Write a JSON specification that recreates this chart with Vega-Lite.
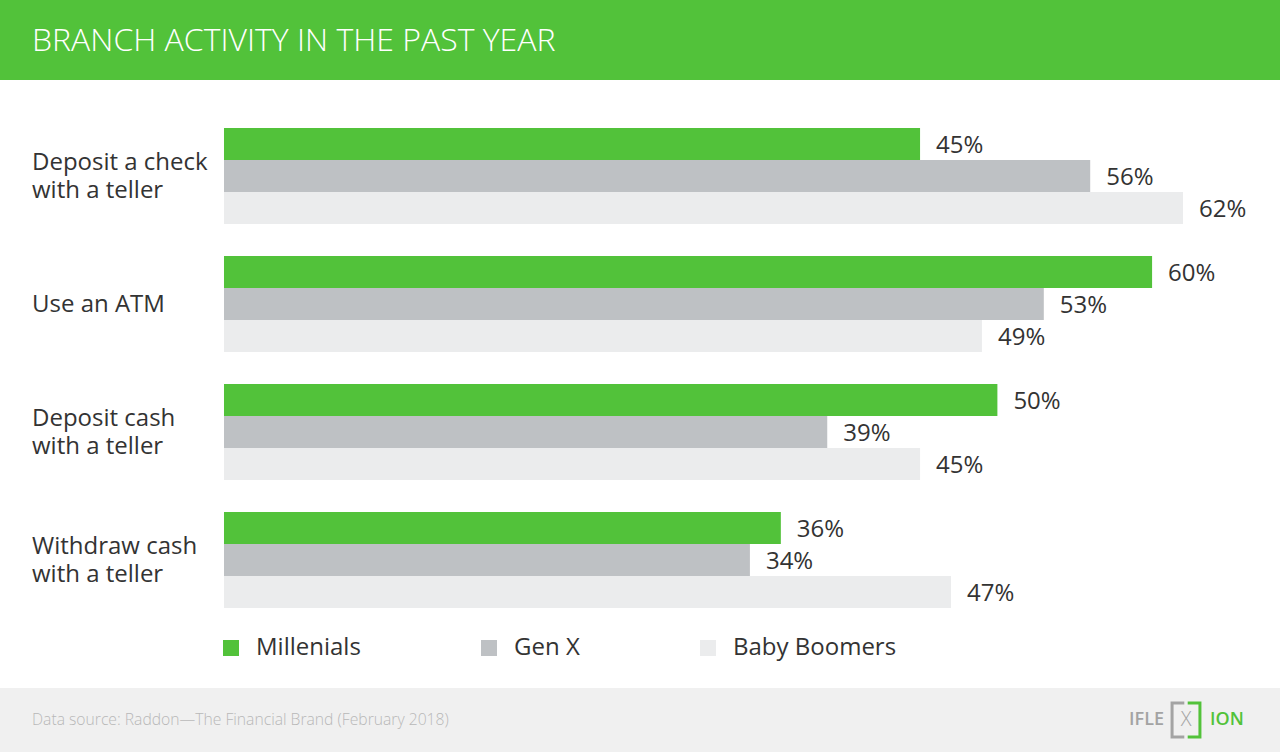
{
  "$schema": "https://vega.github.io/schema/vega-lite/v6.json",
  "background": "#ffffff",
  "padding": 0,
  "spacing": 0,
  "bounds": "flush",
  "config": {
    "view": {"stroke": null},
    "font": "Open Sans",
    "concat": {"spacing": 0}
  },
  "resolve": {"scale": {"x": "independent", "y": "independent", "color": "independent"}},
  "vconcat": [
    {
      "width": 1280,
      "height": 80,
      "view": {"fill": "#52c23a", "stroke": null},
      "data": {"values": [{"title": "BRANCH ACTIVITY IN THE PAST YEAR"}]},
      "mark": {"type": "text", "align": "left", "baseline": "middle", "dx": 32, "dy": 1, "font": "Open Sans", "fontSize": 32, "fontWeight": 300, "color": "#ffffff"},
      "encoding": {
        "text": {"field": "title"},
        "x": {"datum": 0, "type": "quantitative", "scale": {"domain": [0, 1]}, "axis": null},
        "y": {"datum": 0.5, "type": "quantitative", "scale": {"domain": [0, 1]}, "axis": null}
      }
    },
    {
      "width": 1280,
      "height": 608,
      "view": {"fill": "#ffffff", "stroke": null},
      "encoding": {
        "y": {"field": "category", "type": "nominal", "sort": null, "axis": null,
              "scale": {"domain": ["Deposit a check with a teller", "Use an ATM", "Deposit cash with a teller", "Withdraw cash with a teller"],
                        "paddingInner": 0.25, "paddingOuter": 0.5, "align": 0.375}}
      },
      "layer": [
        {
          "data": {"values": [
            {"category": "Deposit a check with a teller", "series": "Millenials", "value": 0.45},
            {"category": "Deposit a check with a teller", "series": "Gen X", "value": 0.56},
            {"category": "Deposit a check with a teller", "series": "Baby Boomers", "value": 0.62},
            {"category": "Use an ATM", "series": "Millenials", "value": 0.60},
            {"category": "Use an ATM", "series": "Gen X", "value": 0.53},
            {"category": "Use an ATM", "series": "Baby Boomers", "value": 0.49},
            {"category": "Deposit cash with a teller", "series": "Millenials", "value": 0.50},
            {"category": "Deposit cash with a teller", "series": "Gen X", "value": 0.39},
            {"category": "Deposit cash with a teller", "series": "Baby Boomers", "value": 0.45},
            {"category": "Withdraw cash with a teller", "series": "Millenials", "value": 0.36},
            {"category": "Withdraw cash with a teller", "series": "Gen X", "value": 0.34},
            {"category": "Withdraw cash with a teller", "series": "Baby Boomers", "value": 0.47}
          ]},
          "encoding": {
            "yOffset": {"field": "series", "type": "nominal", "sort": ["Millenials", "Gen X", "Baby Boomers"],
                        "scale": {"paddingInner": 0, "paddingOuter": 0}},
            "x": {"field": "value", "type": "quantitative", "axis": null,
                  "scale": {"domain": [-0.14481, 0.6827], "nice": false, "zero": false}}
          },
          "layer": [
            {
              "mark": {"type": "bar"},
              "encoding": {
                "color": {
                  "field": "series", "type": "nominal",
                  "scale": {"domain": ["Millenials", "Gen X", "Baby Boomers"], "range": ["#52c23a", "#bec1c4", "#ebeced"]},
                  "legend": {
                    "orient": "none", "legendX": 219, "legendY": 556, "direction": "horizontal", "title": null,
                    "symbolType": "square", "symbolSize": 256, "symbolStrokeWidth": 0,
                    "labelFontSize": 24, "labelFont": "Open Sans", "labelColor": "#333333", "labelOffset": 13,
                    "labelLimit": 400, "columnPadding": 116
                  }
                }
              }
            },
            {
              "mark": {"type": "text", "align": "left", "baseline": "middle", "dx": 16, "dy": 2, "fontSize": 24, "font": "Open Sans", "color": "#333333"},
              "encoding": {
                "text": {"field": "value", "type": "quantitative", "format": ".0%"}
              }
            }
          ]
        },
        {
          "data": {"values": [
            {"category": "Deposit a check with a teller", "line1": "Deposit a check", "line2": "with a teller"},
            {"category": "Deposit cash with a teller", "line1": "Deposit cash", "line2": "with a teller"},
            {"category": "Withdraw cash with a teller", "line1": "Withdraw cash", "line2": "with a teller"}
          ]},
          "encoding": {
            "x": {"datum": -0.14481, "type": "quantitative"}
          },
          "layer": [
            {
              "mark": {"type": "text", "align": "left", "baseline": "middle", "dx": 32, "dy": -13, "fontSize": 24, "font": "Open Sans", "color": "#333333"},
              "encoding": {"text": {"field": "line1"}}
            },
            {
              "mark": {"type": "text", "align": "left", "baseline": "middle", "dx": 32, "dy": 15, "fontSize": 24, "font": "Open Sans", "color": "#333333"},
              "encoding": {"text": {"field": "line2"}}
            }
          ]
        },
        {
          "data": {"values": [
            {"category": "Use an ATM", "label": "Use an ATM"}
          ]},
          "mark": {"type": "text", "align": "left", "baseline": "middle", "dx": 32, "dy": 1, "fontSize": 24, "font": "Open Sans", "color": "#333333"},
          "encoding": {
            "x": {"datum": -0.14481, "type": "quantitative"},
            "text": {"field": "label"}
          }
        }
      ]
    },
    {
      "width": 1280,
      "height": 64,
      "view": {"fill": "#f0f0f0", "stroke": null},
      "data": {"values": [{"source": "Data source: Raddon\u2014The Financial Brand (February 2018)", "a": "IFLE", "b": "X", "c": "ION"}]},
      "encoding": {
        "y": {"datum": 0.5, "type": "quantitative", "scale": {"domain": [0, 1]}, "axis": null}
      },
      "layer": [
        {
          "mark": {"type": "text", "align": "left", "baseline": "middle", "dx": 32, "fontSize": 15.7, "font": "Open Sans", "fontWeight": 300, "color": "#b8b8b8"},
          "encoding": {
            "text": {"field": "source"},
            "x": {"datum": 0, "type": "quantitative", "scale": {"domain": [0, 1]}, "axis": null}
          }
        },
        {
          "mark": {"type": "text", "align": "right", "baseline": "middle", "dx": -116, "fontSize": 18, "font": "Open Sans", "fontWeight": 600, "color": "#a3a3a3"},
          "encoding": {
            "text": {"field": "a"},
            "x": {"datum": 1, "type": "quantitative"}
          }
        },
        {
          "mark": {"type": "text", "align": "center", "baseline": "middle", "dx": -94, "fontSize": 20, "font": "Open Sans", "fontWeight": 300, "color": "#a3a3a3"},
          "encoding": {
            "text": {"field": "b"},
            "x": {"datum": 1, "type": "quantitative"}
          }
        },
        {
          "mark": {"type": "point", "shape": "M-0.1,-1H-0.82V1H-0.1", "size": 1156, "filled": false, "strokeWidth": 3, "color": "#a3a3a3", "opacity": 1, "xOffset": -94},
          "encoding": {
            "x": {"datum": 1, "type": "quantitative"}
          }
        },
        {
          "mark": {"type": "point", "shape": "M0.1,-1H0.82V1H0.1", "size": 1156, "filled": false, "strokeWidth": 3, "color": "#52c23a", "opacity": 1, "xOffset": -94},
          "encoding": {
            "x": {"datum": 1, "type": "quantitative"}
          }
        },
        {
          "mark": {"type": "text", "align": "left", "baseline": "middle", "dx": -70, "fontSize": 18, "font": "Open Sans", "fontWeight": 600, "color": "#52c23a"},
          "encoding": {
            "text": {"field": "c"},
            "x": {"datum": 1, "type": "quantitative"}
          }
        }
      ]
    }
  ]
}
